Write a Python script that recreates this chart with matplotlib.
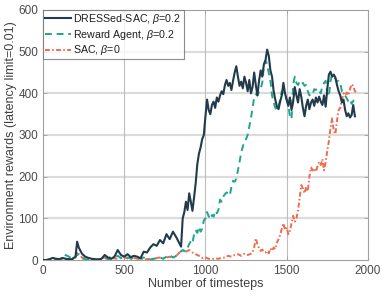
import numpy as np
import matplotlib.pyplot as plt

plt.rcParams['font.family'] = ['Liberation Sans', 'DejaVu Sans']
plt.rcParams['mathtext.fontset'] = 'custom'
plt.rcParams['mathtext.it'] = 'Liberation Sans:italic'

# ---------------- datos ----------------
# DRESSed-SAC, beta=0.2
x_dress = [0, 20, 40, 60, 80, 100, 120, 140, 160, 180, 200, 210, 220, 240, 260, 280, 300, 320, 340, 360,
           380, 400, 420, 440, 460, 480, 500, 520, 540, 560, 580, 600, 620, 640, 660, 680, 700, 720, 740, 760,
           780, 800, 820, 840, 850,
           860, 870, 880, 890, 900, 910, 920, 930, 940, 950, 960, 970, 980, 990, 1000, 1010, 1020, 1030, 1040, 1050,
           1060, 1070, 1080, 1090, 1100, 1110, 1120, 1130, 1140, 1150, 1160, 1170, 1180, 1190, 1200, 1210, 1220, 1230,
           1240, 1250, 1260, 1270, 1280, 1290, 1300, 1310, 1320, 1330, 1340, 1350, 1360, 1370, 1380, 1390, 1400, 1410,
           1420, 1430, 1440, 1450, 1460, 1470, 1480, 1490, 1500, 1510, 1520, 1530, 1540, 1550, 1560, 1570, 1580, 1590,
           1600, 1610, 1620, 1630, 1640, 1650, 1660, 1670, 1680, 1690, 1700, 1710, 1720, 1730, 1740, 1750, 1760, 1770,
           1780, 1790, 1800, 1810, 1820, 1830, 1840, 1850, 1860, 1870, 1880, 1890, 1900, 1910, 1920]
y_dress = [0, 0, 2, 5, 3, 2, 5, 3, 2, 2, 8, 44, 30, 15, 8, 5, 3, 2, 1, 3,
           12, 6, 3, 8, 24, 12, 8, 14, 7, 10, 8, 4, 20, 18, 30, 38, 34, 48, 40, 62,
           50, 68, 55, 40, 32,
           100, 115, 140, 120, 160, 140, 118, 150, 185, 230, 255, 270, 290, 300, 345, 385, 360, 350, 372, 380,
           365, 390, 380, 395, 405, 398, 420, 432, 418, 425, 408, 430, 450, 465, 440, 418, 428, 412,
           440, 425, 405, 432, 400, 415, 450, 420, 395, 430, 455, 440, 470, 480, 505, 490, 455, 440,
           405, 385, 368, 362, 380, 395, 425, 400, 385, 370, 390, 360, 380, 415, 395, 378, 410, 392,
           365, 345, 370, 385, 362, 378, 385, 370, 390, 378, 392, 380, 372, 395, 368, 410, 445, 452,
           440, 445, 438, 420, 405, 395, 378, 385, 360, 345, 352, 342, 348, 372, 345]

# Reward Agent, beta=0.2
x_reward = [0, 20, 40, 60, 80, 100, 120, 140, 160, 180, 200, 210, 220, 240, 260, 280, 300, 320, 340, 360,
            380, 400, 420, 440, 460, 480, 500, 520, 540, 560, 580, 600, 620, 640, 660, 680, 700, 720, 740, 760,
            780, 800, 820, 840, 860, 880,
            900, 910, 920, 930, 940, 950, 960, 970, 980, 990, 1000, 1010, 1020, 1030, 1040, 1050, 1060, 1070, 1080,
            1090, 1100, 1110, 1120, 1130, 1140, 1150, 1160, 1170, 1180, 1190, 1200, 1210, 1220, 1230, 1240, 1250,
            1260, 1270, 1280, 1290, 1300, 1310, 1320, 1330, 1340, 1350, 1360, 1370, 1380, 1390, 1400, 1410, 1420,
            1430, 1440, 1450, 1460, 1470, 1480, 1490, 1500, 1510, 1520, 1530, 1540, 1550, 1560, 1570, 1580, 1590,
            1600, 1610, 1620, 1630, 1640, 1650, 1660, 1670, 1680, 1690, 1700, 1710, 1720, 1730, 1740, 1750, 1760,
            1770, 1780, 1790, 1800, 1810, 1820, 1830, 1840, 1850, 1860, 1870, 1880, 1890, 1900, 1910, 1920]
y_reward = [0, 0, 1, 2, 1, 2, 3, 12, 8, 3, 6, 15, 10, 4, 2, 1, 0, 1, 2, 3,
            5, 2, 4, 6, 10, 5, 3, 6, 4, 5, 3, 4, 6, 2, 1, 3, 4, 6, 3, 8,
            12, 6, 10, 18, 24, 20,
            38, 45, 40, 62, 72, 65, 80, 68, 75, 95, 100, 115, 105, 98, 108, 104, 118, 112, 120,
            145, 140, 152, 158, 162, 160, 155, 175, 190, 188, 195, 215, 235, 258, 272, 285, 290,
            300, 320, 340, 365, 390, 398, 395, 405, 412, 425, 465, 478, 470, 448, 430, 395, 378,
            365, 360, 370, 385, 405, 400, 392, 385, 372, 345, 338, 420, 440, 425, 420, 428, 422,
            425, 418, 420, 405, 395, 400, 398, 410, 408, 412, 405, 400, 418, 425, 430, 400, 392,
            430, 445, 438, 436, 428, 430, 425, 405, 400, 395, 388, 380, 385, 375, 382, 385]

# SAC, beta=0
x_sac = [0, 20, 40, 60, 80, 100, 120, 140, 160, 180, 200, 210, 220, 240, 260, 280, 300, 320, 340, 360,
         380, 400, 420, 440, 460, 480, 500, 520, 540, 560, 580, 600, 620, 640, 660, 680, 700, 720, 740, 760,
         780, 800, 820, 840, 860, 880, 900, 920, 940, 960, 980, 1000, 1020, 1040, 1060, 1080, 1100, 1120, 1140,
         1160, 1180, 1200, 1220, 1240, 1260, 1280,
         1290, 1300, 1310, 1320, 1330, 1340, 1350, 1360, 1370, 1380, 1390, 1400, 1410, 1420, 1430, 1440, 1450,
         1460, 1470, 1480, 1490, 1500, 1510, 1520, 1530, 1540, 1550, 1560, 1570, 1580, 1590, 1600, 1610, 1620,
         1630, 1640, 1650, 1660, 1670, 1680, 1690, 1700, 1710, 1720, 1730, 1740, 1750, 1760, 1770, 1780, 1790,
         1800, 1810, 1820, 1830, 1840, 1850, 1860, 1870, 1880, 1890, 1900, 1910, 1920, 1930]
y_sac = [0, 0, 0, 2, 1, 2, 1, 2, 3, 4, 8, 20, 15, 6, 3, 2, 1, 0, 1, 4,
         6, 8, 5, 4, 3, 5, 6, 4, 2, 5, 3, 2, 1, 2, 3, 2, 5, 6, 4, 6,
         8, 5, 10, 18, 22, 20, 24, 18, 14, 10, 5, 6, 3, 2, 4, 3, 5, 6, 10,
         8, 12, 14, 10, 15, 12, 15,
         18, 30, 52, 38, 28, 22, 25, 20, 18, 22, 16, 28, 22, 30, 26, 42, 50,
         60, 75, 88, 72, 78, 62, 70, 88, 106, 92, 100, 118, 150, 180, 172, 160, 175,
         165, 200, 222, 215, 220, 212, 225, 235, 228, 242, 215, 235, 262, 285, 318, 340, 310,
         302, 335, 360, 365, 385, 400, 395, 402, 395, 410, 422, 418, 405, 402]

xticks = [0, 500, 1000, 1500, 2000]
yticks = [0, 100, 200, 300, 400, 500, 600]

# ---------------- figura ----------------
fig = plt.figure(figsize=(3.82, 2.99), dpi=100)
ax = fig.add_axes([0.1126, 0.1304, 0.8504, 0.8362])

c_dress = '#213b4c'
c_reward = '#20a58a'
c_sac = '#ee6b4d'

ax.plot(x_sac, y_sac, color=c_sac, lw=1.4, ls=(0, (2.5, 1.2, 0.8, 1.2)), label=r'SAC, $\beta$=0', zorder=3)
ax.plot(x_reward, y_reward, color=c_reward, lw=1.4, ls=(0, (3.5, 2.5)), label=r'Reward Agent, $\beta$=0.2', zorder=4)
ax.plot(x_dress, y_dress, color=c_dress, lw=1.5, ls='-', label=r'DRESSed-SAC, $\beta$=0.2', zorder=5)

ax.set_xlim(0, 2000)
ax.set_ylim(0, 600)
ax.set_xticks(xticks)
ax.set_yticks(yticks)

# rejilla estilo matlab
for yv in yticks[1:-1]:
    ax.axhline(yv, color='#dcdcdc', lw=1.6, zorder=1)
for xv in xticks[1:-1]:
    ax.axvline(xv, color='#bdbdbd', lw=0.8, zorder=1)

for s in ax.spines.values():
    s.set_color('#a0a0a0')
    s.set_linewidth(0.8)
ax.tick_params(direction='in', length=3, width=0.6, colors='#a0a0a0', labelcolor='#4a4a4a',
               labelsize=8.5, top=True, right=True)

ax.set_xlabel('Number of timesteps', fontsize=9, color='#404040', labelpad=1)
ax.set_ylabel('Environment rewards (latency limit=0.01)', fontsize=9, color='#404040', labelpad=1)

h, l = ax.get_legend_handles_labels()
leg = ax.legend(h[::-1], l[::-1], loc='upper left', borderaxespad=0, fontsize=7.7, frameon=True,
                fancybox=False, edgecolor='#707070', handlelength=2.4, handletextpad=0.25,
                borderpad=0.2, labelspacing=0.15)
leg.get_frame().set_linewidth(0.8)
for t in leg.get_texts():
    t.set_color('#202020')

plt.savefig('out.png', dpi=100)
